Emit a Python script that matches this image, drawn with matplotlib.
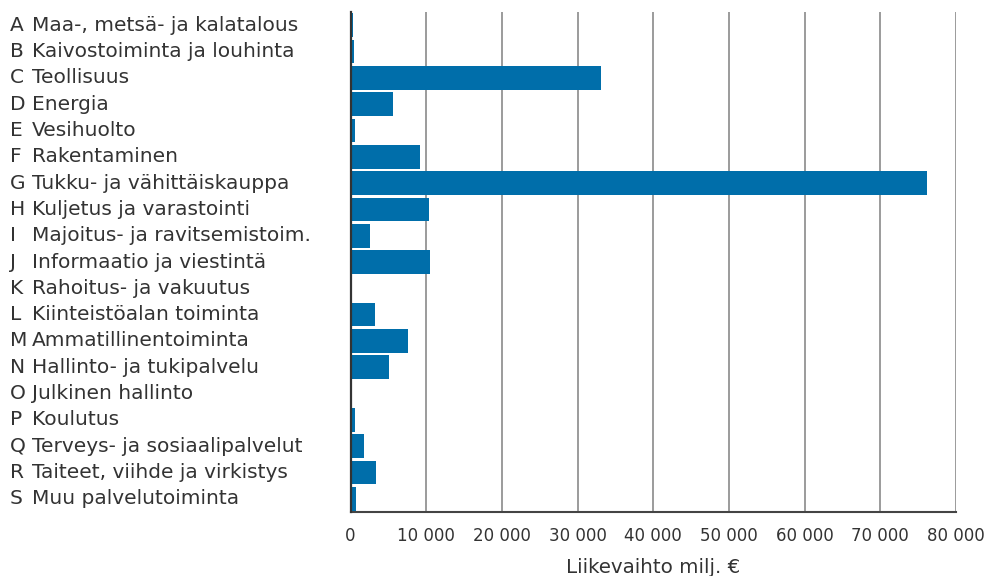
#!/usr/bin/env python3
"""Horizontal bar chart: liikevaihto by toimiala."""
import matplotlib

matplotlib.use("Agg")
import matplotlib.pyplot as plt
from matplotlib.ticker import FuncFormatter
from matplotlib.transforms import blended_transform_factory

letters = list("ABCDEFGHIJKLMNOPQRS")
names = [
    "Maa-, metsä- ja kalatalous",
    "Kaivostoiminta ja louhinta",
    "Teollisuus",
    "Energia",
    "Vesihuolto",
    "Rakentaminen",
    "Tukku- ja vähittäiskauppa",
    "Kuljetus ja varastointi",
    "Majoitus- ja ravitsemistoim.",
    "Informaatio ja viestintä",
    "Rahoitus- ja vakuutus",
    "Kiinteistöalan toiminta",
    "Ammatillinentoiminta",
    "Hallinto- ja tukipalvelu",
    "Julkinen hallinto",
    "Koulutus",
    "Terveys- ja sosiaalipalvelut",
    "Taiteet, viihde ja virkistys",
    "Muu palvelutoiminta",
]
values = [340, 430, 33150, 5600, 570, 9180, 76150, 10330, 2590, 10550,
          0, 3200, 7650, 5150, 0, 530, 1760, 3340, 700]
xticks = list(range(0, 80001, 10000))

TEXT = "#333333"
BAR = "#006EAA"
plt.rcParams["font.family"] = ["DejaVu Sans"]

fig = plt.figure(figsize=(9.93, 5.76), dpi=100)
ax = fig.add_axes([350.5 / 993, 1 - 512 / 576, 605.5 / 993, 500 / 576])

ypos = list(range(len(values)))
ax.barh(ypos, values, height=0.9, color=BAR, zorder=3)
ax.set_ylim(len(values) - 0.5, -0.5)
ax.set_xlim(0, 80000)

ax.set_xticks(xticks)
ax.xaxis.set_major_formatter(FuncFormatter(lambda v, _: f"{int(v):,}".replace(",", " ")))
ax.tick_params(axis="x", length=0, pad=11, labelsize=12, colors=TEXT)
ax.set_yticks([])
ax.grid(axis="x", color="#8a8a8a", linewidth=1.2, zorder=0)

for side in ("top", "right"):
    ax.spines[side].set_visible(False)
ax.spines["left"].set_color("#333333")
ax.spines["left"].set_linewidth(1.6)
ax.spines["left"].set_zorder(4)
ax.spines["bottom"].set_color("#444444")
ax.spines["bottom"].set_linewidth(1.5)

ax.set_xlabel("Liikevaihto milj. €", fontsize=14.3, color=TEXT, labelpad=9.5)

trans = blended_transform_factory(fig.transFigure, ax.transData)
for y, (letter, name) in enumerate(zip(letters, names)):
    ax.text(10 / 993, y, letter, transform=trans, ha="left", va="center",
            fontsize=14.5, color=TEXT)
    ax.text(32 / 993, y, name, transform=trans, ha="left", va="center",
            fontsize=14.5, color=TEXT)

fig.savefig("out.png", dpi=100)
